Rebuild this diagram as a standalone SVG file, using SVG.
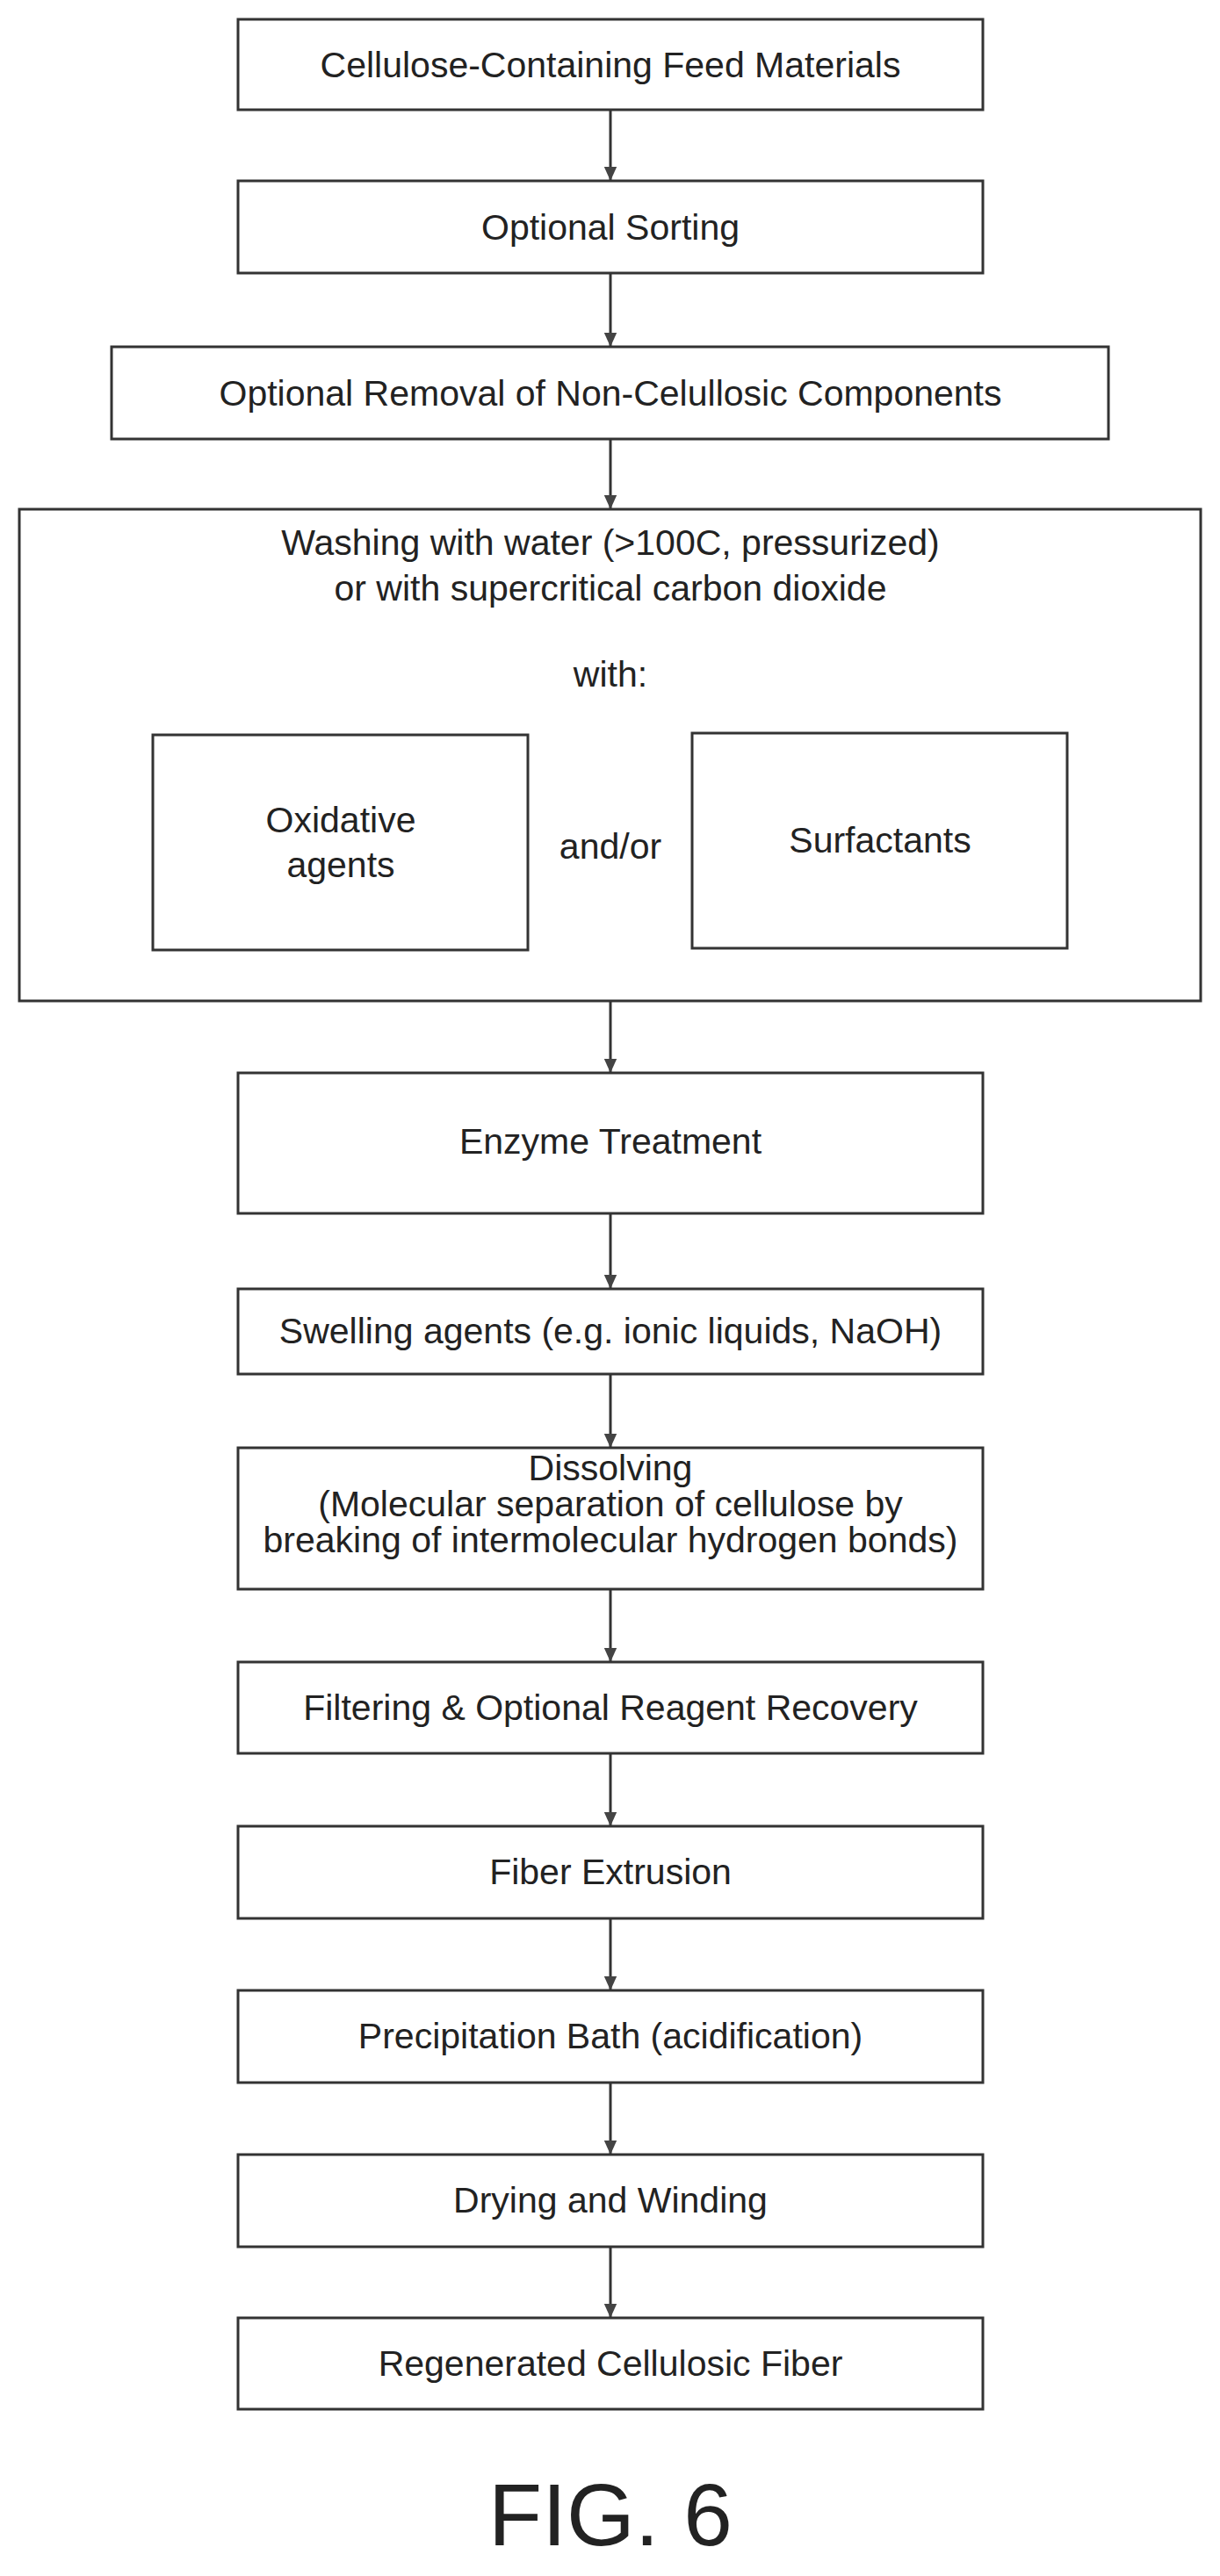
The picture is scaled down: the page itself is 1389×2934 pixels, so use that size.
<svg xmlns="http://www.w3.org/2000/svg" width="1389" height="2934" viewBox="0 0 1389 2934">
<style>
rect{fill:#fff;stroke:#333;stroke-width:3}
text{font-family:"Liberation Sans",Arial,sans-serif;font-size:41px;fill:#222;text-anchor:middle;dominant-baseline:central}
.c{stroke:#333;stroke-width:3;fill:none;marker-end:url(#a)}
</style>
<defs><marker id="a" viewBox="0 0 10 10" refX="10" refY="5" markerWidth="8" markerHeight="8" markerUnits="userSpaceOnUse" orient="auto" style="overflow:visible"><path d="M-10,-4 L10,5 L-10,14 Z" fill="#444"/></marker></defs>
<rect width="1389" height="2934" style="stroke:none"/>
<g id="connectors">
<line class="c" x1="695" y1="125" x2="695" y2="206"/>
<line class="c" x1="695" y1="311" x2="695" y2="395"/>
<line class="c" x1="695" y1="500" x2="695" y2="580"/>
<line class="c" x1="695" y1="1140" x2="695" y2="1222"/>
<line class="c" x1="695" y1="1382" x2="695" y2="1468"/>
<line class="c" x1="695" y1="1565" x2="695" y2="1649"/>
<line class="c" x1="695" y1="1810" x2="695" y2="1893"/>
<line class="c" x1="695" y1="1997" x2="695" y2="2080"/>
<line class="c" x1="695" y1="2185" x2="695" y2="2267"/>
<line class="c" x1="695" y1="2372" x2="695" y2="2454"/>
<line class="c" x1="695" y1="2559" x2="695" y2="2640"/>
</g>
<g id="n1"><rect x="271" y="22" width="848" height="103"/><text x="695" y="74">Cellulose-Containing Feed Materials</text></g>
<g id="n2"><rect x="271" y="206" width="848" height="105"/><text x="695" y="259">Optional Sorting</text></g>
<g id="n3"><rect x="127" y="395" width="1135" height="105"/><text x="695" y="448">Optional Removal of Non-Celullosic Components</text></g>
<g id="n4"><rect x="22" y="580" width="1345" height="560"/>
<text x="695" y="618">Washing with water (&gt;100C, pressurized)</text>
<text x="695" y="670">or with supercritical carbon dioxide</text>
<text x="695" y="768">with:</text>
<text x="695" y="964">and/or</text></g>
<g id="n4a"><rect x="174" y="837" width="427" height="245"/><text x="388" y="934">Oxidative</text><text x="388" y="985">agents</text></g>
<g id="n4b"><rect x="788" y="835" width="427" height="245"/><text x="1002" y="957">Surfactants</text></g>
<g id="n5"><rect x="271" y="1222" width="848" height="160"/><text x="695" y="1300">Enzyme Treatment</text></g>
<g id="n6"><rect x="271" y="1468" width="848" height="97"/><text x="695" y="1516">Swelling agents (e.g. ionic liquids, NaOH)</text></g>
<g id="n7"><rect x="271" y="1649" width="848" height="161"/><text x="695" y="1672">Dissolving</text><text x="695" y="1713">(Molecular separation of cellulose by</text><text x="695" y="1754">breaking of intermolecular hydrogen bonds)</text></g>
<g id="n8"><rect x="271" y="1893" width="848" height="104"/><text x="695" y="1945">Filtering &amp; Optional Reagent Recovery</text></g>
<g id="n9"><rect x="271" y="2080" width="848" height="105"/><text x="695" y="2132">Fiber Extrusion</text></g>
<g id="n10"><rect x="271" y="2267" width="848" height="105"/><text x="695" y="2319">Precipitation Bath (acidification)</text></g>
<g id="n11"><rect x="271" y="2454" width="848" height="105"/><text x="695" y="2506">Drying and Winding</text></g>
<g id="n12"><rect x="271" y="2640" width="848" height="104"/><text x="695" y="2692">Regenerated Cellulosic Fiber</text></g>
<text x="695" y="2864" style="font-size:100px">FIG. 6</text>
</svg>
